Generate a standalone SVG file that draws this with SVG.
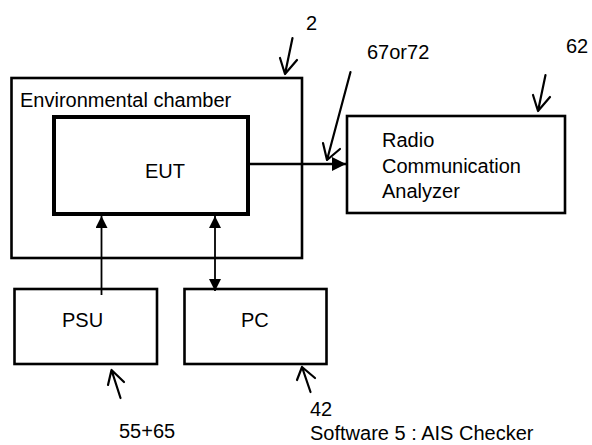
<svg xmlns="http://www.w3.org/2000/svg" width="592" height="445" viewBox="0 0 592 445">
<style>
.box{fill:none;stroke:#000;stroke-width:2.6}
.eut{fill:none;stroke:#000;stroke-width:4}
.t{font-family:"Liberation Sans",Arial,sans-serif;font-size:20px;fill:#000}
.c{stroke:#000;fill:none}
.ann{stroke:#000;stroke-width:2.2;fill:none;stroke-linecap:round;stroke-linejoin:round}
</style>
<defs>
<marker id="ah" viewBox="0 0 10 10" refX="10" refY="5" markerWidth="12" markerHeight="12" markerUnits="userSpaceOnUse" orient="auto-start-reverse">
<path d="M0,0 L10,5 L0,10 z" fill="#000"/>
</marker>
<marker id="ahL" viewBox="0 0 10 10" refX="10" refY="5" markerWidth="14" markerHeight="14" markerUnits="userSpaceOnUse" orient="auto">
<path d="M0,0 L10,5 L0,10 z" fill="#000"/>
</marker>
</defs>
<rect width="592" height="445" fill="#fff"/>
<g id="chamber">
<rect class="box" x="11.5" y="78" width="290.5" height="180"/>
<text class="t" x="20" y="107">Environmental chamber</text>
</g>
<g id="eut">
<rect class="eut" x="54" y="117" width="194" height="97"/>
<text class="t" x="145" y="178">EUT</text>
</g>
<g id="rca">
<rect class="box" x="347" y="116" width="218" height="97"/>
<text class="t" x="382" y="147">Radio</text>
<text class="t" x="382" y="173">Communication</text>
<text class="t" x="382" y="198">Analyzer</text>
</g>
<g id="psu">
<rect class="box" x="14.5" y="289" width="142.5" height="75"/>
<text class="t" x="62" y="327">PSU</text>
</g>
<g id="pc">
<rect class="box" x="184.5" y="289" width="142" height="75"/>
<text class="t" x="241" y="327">PC</text>
</g>
<g id="connectors">
<line class="c" stroke-width="2.6" x1="250" y1="164" x2="346" y2="164" marker-end="url(#ahL)"/>
<line class="c" stroke-width="1.8" x1="101.5" y1="295" x2="101.5" y2="216" marker-end="url(#ah)"/>
<line class="c" stroke-width="1.8" x1="215" y1="216" x2="215" y2="291" marker-start="url(#ah)" marker-end="url(#ah)"/>
</g>
<g id="annotations">
<path class="ann" d="M292.5,38 L285,74 M280,58 L285,74 L297,60"/>
<text class="t" x="306" y="30">2</text>
<path class="ann" d="M350.5,72 L327,160 M323,143 L327,160 L340,149"/>
<text class="t" x="367" y="59">67or72</text>
<path class="ann" d="M545.5,75 L538,111 M533,95 L538,111 L550,97"/>
<text class="t" x="566" y="53">62</text>
<path class="ann" d="M120.5,398 L111.5,370 M108,385 L111.5,370 L124,382"/>
<text class="t" x="119" y="438">55+65</text>
<path class="ann" d="M310.5,392 L302,367 M297,380 L302,367 L315,378"/>
<text class="t" x="310" y="416">42</text>
<text class="t" x="310" y="440">Software 5 : AIS Checker</text>
</g>
</svg>
